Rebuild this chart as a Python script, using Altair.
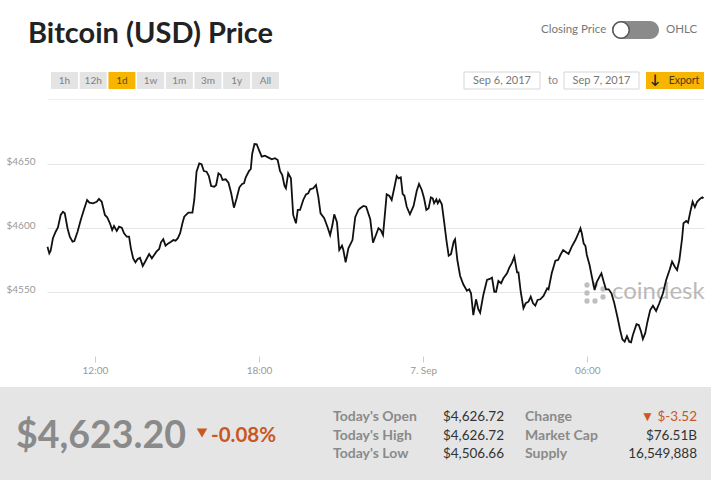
import altair as alt
import pandas as pd

# ---- data ----
minutes = [616,620,623,628,634,639,645,650,654,660,665,671,675,682,689,697,703,708,716,724,729,735,742,747,753,758,762,768,773,779,784,790,795,799,804,809,814,819,825,831,839,845,850,855,861,865,870,875,881,887,892,897,902,907,912,916,925,934,938,943,949,954,959,965,970,975,982,986,991,996,1000,1007,1013,1019,1025,1031,1037,1043,1047,1051,1058,1062,1065,1070,1075,1080,1086,1093,1100,1108,1115,1121,1126,1131,1136,1139,1144,1150,1155,1161,1165,1170,1177,1183,1188,1192,1199,1205,1210,1215,1223,1230,1236,1241,1245,1251,1256,1262,1265,1270,1276,1285,1291,1298,1302,1309,1315,1324,1330,1335,1342,1347,1352,1360,1366,1371,1377,1382,1386,1391,1395,1399,1404,1411,1419,1426,1431,1437,1442,1447,1452,1457,1461,1464,1469,1472,1476,1481,1486,1491,1496,1501,1507,1510,1515,1521,1528,1536,1541,1545,1550,1556,1561,1565,1572,1580,1586,1591,1596,1600,1605,1611,1616,1624,1629,1635,1640,1646,1649,1654,1660,1665,1671,1676,1681,1686,1691,1697,1704,1712,1715,1722,1730,1736,1741,1747,1752,1759,1766,1774,1781,1785,1788,1792,1796,1799,1805,1810,1816,1821,1827,1831,1836,1841,1847,1853,1859,1866,1872,1877,1882,1887,1892,1896,1900,1908,1913,1918,1922,1927,1932,1938,1944,1951,1958,1966,1973,1981,1986,1992,1997,2002,2008,2011,2017,2021,2026,2031,2036,2041,2047,2052,2055]

prices = [4585.4,4580.2,4582.3,4592.0,4597.1,4600.5,4610.2,4612.7,4611.5,4599.8,4593.2,4589.3,4589.8,4597.1,4606.3,4615.4,4621.9,4619.8,4619.3,4620.5,4622.7,4620.5,4610.2,4608.4,4603.7,4598.4,4601.6,4597.7,4601.0,4600.2,4595.9,4593.2,4593.2,4584.1,4576.3,4573.2,4575.8,4576.8,4570.3,4574.2,4579.7,4576.3,4578.9,4581.5,4583.6,4588.8,4591.2,4586.2,4588.0,4589.3,4590.6,4590.1,4592.0,4595.9,4603.7,4608.8,4612.0,4612.0,4621.9,4644.0,4650.5,4649.8,4644.5,4644.0,4640.6,4632.8,4632.3,4633.6,4642.7,4641.4,4637.5,4638.0,4635.4,4627.1,4615.9,4623.2,4631.8,4634.4,4634.9,4639.6,4644.5,4646.1,4657.8,4665.6,4665.4,4660.9,4655.7,4656.5,4655.2,4653.7,4654.5,4653.1,4644.5,4641.4,4632.8,4631.0,4642.7,4638.8,4610.2,4603.7,4614.1,4614.1,4621.9,4626.3,4627.1,4630.2,4631.0,4633.6,4624.5,4611.5,4607.6,4601.0,4594.5,4602.3,4610.7,4604.5,4582.8,4586.2,4582.8,4573.2,4584.1,4590.6,4608.4,4614.1,4615.4,4617.2,4616.6,4606.8,4588.5,4593.2,4599.8,4598.4,4594.5,4626.3,4625.0,4621.9,4631.8,4640.6,4638.8,4639.6,4626.6,4625.2,4616.6,4610.7,4617.2,4629.1,4634.4,4629.7,4623.2,4614.1,4615.4,4624.0,4623.2,4619.3,4622.4,4619.3,4621.9,4618.5,4604.9,4590.6,4578.4,4579.5,4589.3,4591.2,4575.0,4562.7,4556.0,4551.0,4552.1,4549.0,4532.0,4544.3,4536.5,4533.8,4547.7,4559.4,4560.2,4561.2,4550.2,4550.2,4558.6,4556.8,4560.7,4564.6,4569.0,4572.9,4577.6,4565.4,4565.4,4550.2,4537.3,4541.2,4542.4,4546.3,4541.2,4539.3,4543.8,4544.3,4546.9,4552.9,4552.1,4564.6,4574.5,4575.0,4578.9,4582.8,4581.5,4579.7,4585.4,4590.6,4596.3,4599.8,4595.9,4588.0,4585.9,4578.9,4571.1,4562.0,4551.6,4558.0,4562.0,4564.6,4558.0,4552.1,4552.1,4549.0,4541.6,4530.7,4520.3,4513.0,4511.2,4515.6,4511.2,4510.7,4516.4,4524.8,4524.2,4519.0,4513.3,4517.7,4526.8,4535.9,4539.3,4535.2,4541.2,4549.0,4559.4,4567.7,4573.7,4569.8,4567.2,4575.0,4592.0,4603.7,4605.5,4604.1,4612.7,4620.5,4616.2,4620.5,4622.7,4624.0,4623.2]

y_ticks = [4550, 4600, 4650]
range_buttons = ["1h", "12h", "1d", "1w", "1m", "3m", "1y", "All"]
active_button = "1d"
title_text = "Bitcoin (USD) Price"
toggle_left = "Closing Price"
toggle_right = "OHLC"
date_from = "Sep 6, 2017"
date_to = "Sep 7, 2017"
current_price = "$4,623.20"
pct_change = "-0.08%"
stat_labels_left = ["Today's Open", "Today's High", "Today's Low"]
stat_values_left = ["$4,626.72", "$4,626.72", "$4,506.66"]
stat_labels_right = ["Change", "Market Cap", "Supply"]
stat_values_right = ["\u25BC $-3.52", "$76.51B", "16,549,888"]

base_day = pd.Timestamp("2017-09-06")
times = [(base_day + pd.Timedelta(minutes=m)).strftime("%Y-%m-%dT%H:%M:00Z") for m in minutes]
df = pd.DataFrame({"time": times, "price": prices})

# ---- layout helpers (canvas pixels -> plot coordinates) ----
OX, OY = 47, 100
FONT = "Lato"
one = pd.DataFrame({"k": [0]})
ORANGE = "#c8581f"


def txt(text, x, y, size, color, weight="normal", align="left", baseline="middle", opacity=1.0):
    return alt.Chart(one).mark_text(
        text=text, align=align, baseline=baseline, fontSize=size, color=color,
        fontWeight=weight, font=FONT, opacity=opacity
    ).encode(x=alt.value(x - OX), y=alt.value(y - OY))


def box(x1, y1, x2, y2, fill, stroke=None, radius=0):
    kw = dict(fill=fill, cornerRadius=radius)
    if stroke:
        kw.update(stroke=stroke, strokeWidth=1)
    return alt.Chart(one).mark_rect(**kw).encode(
        x=alt.value(x1 - OX), x2=alt.value(x2 - OX),
        y=alt.value(y1 - OY), y2=alt.value(y2 - OY))


def dot(x, y, size, fill, stroke=None, sw=1.0, shape="circle", opacity=1.0):
    kw = dict(shape=shape, filled=True, fill=fill, size=size, opacity=opacity)
    if stroke:
        kw.update(stroke=stroke, strokeWidth=sw)
    else:
        kw.update(strokeWidth=0)
    return alt.Chart(one).mark_point(**kw).encode(x=alt.value(x - OX), y=alt.value(y - OY))


layers = []
# bottom stats panel
layers.append(box(0, 387, 711, 480, "#e5e5e5"))
# faint top border of the plot
layers.append(box(48, 99, 704, 100, "#eeeeee"))

# title
layers.append(txt(title_text, 28, 43, 29, "#222222", weight="bold", baseline="alphabetic"))

# range buttons
for i, b in enumerate(range_buttons):
    x1 = 51 + i * 28.7
    active = (b == active_button)
    layers.append(box(x1, 72, x1 + 27, 89, "#f7b500" if active else "#e4e4e4"))
    layers.append(txt(b, x1 + 13.5, 81, 10, "#5a4a20" if active else "#808080", align="center"))

# closing price / OHLC toggle
layers.append(txt(toggle_left, 541, 30, 11.5, "#777777"))
layers.append(box(612, 21, 659, 39, "#8a8a8a", radius=9))
layers.append(dot(621, 30, 270, "#ffffff", stroke="#555555", sw=1.5))
layers.append(txt(toggle_right, 666, 30, 11.5, "#777777"))

# date range boxes and export
layers.append(box(464, 72, 540, 89, "#ffffff", stroke="#d6d6d6"))
layers.append(txt(date_from, 502, 81, 11, "#777777", align="center"))
layers.append(txt("to", 553, 81, 11, "#888888", align="center"))
layers.append(box(564, 72, 639, 89, "#ffffff", stroke="#d6d6d6"))
layers.append(txt(date_to, 601.5, 81, 11, "#777777", align="center"))
layers.append(box(646, 72, 704, 89, "#f7b500"))
layers.append(txt("\u2193", 655, 80, 13, "#222222", weight="bold", align="center"))
layers.append(txt("Export", 684, 81, 10.5, "#4a3a10", align="center"))

# coindesk watermark
for (px, py) in [(587, 285), (587, 293), (587, 301), (595, 285), (595, 301), (603, 289), (603, 297)]:
    layers.append(dot(px, py, 28, "#b8b8b8", opacity=0.9))
layers.append(txt("coindesk", 612, 292, 24, "#b3b3b3", opacity=0.9))

# bottom stats
layers.append(txt(current_price, 16, 448, 37.5, "#8a8a8a", weight="bold", baseline="alphabetic"))
layers.append(dot(202, 433, 110, ORANGE, shape="triangle-down"))
layers.append(txt(pct_change, 211, 442, 20.5, ORANGE, weight="bold", baseline="alphabetic"))

row_y = [417, 435.5, 454]
for i in range(3):
    layers.append(txt(stat_labels_left[i], 333, row_y[i], 14, "#8a8a8a", weight="bold"))
    layers.append(txt(stat_values_left[i], 504, row_y[i], 13.5, "#333333", align="right"))
    layers.append(txt(stat_labels_right[i], 525, row_y[i], 14, "#8a8a8a", weight="bold"))
    layers.append(txt(stat_values_right[i], 697, row_y[i], 13.5,
                      ORANGE if i == 0 else "#333333", align="right"))

# ---- price line ----
x_enc = alt.X(
    "time:T",
    scale=alt.Scale(
        type="utc",
        domain=[alt.DateTime(year=2017, month=9, date=6, hours=10, minutes=15, utc=True),
                alt.DateTime(year=2017, month=9, date=7, hours=10, minutes=16, utc=True)],
        nice=False),
    axis=alt.Axis(
        values=[alt.DateTime(year=2017, month=9, date=6, hours=12, utc=True),
                alt.DateTime(year=2017, month=9, date=6, hours=18, utc=True),
                alt.DateTime(year=2017, month=9, date=7, hours=0, utc=True),
                alt.DateTime(year=2017, month=9, date=7, hours=6, utc=True)],
        labelExpr="utcFormat(datum.value, '%H:%M') == '00:00' ? utcFormat(datum.value, '%-d. %b') : utcFormat(datum.value, '%H:%M')",
        grid=False, domain=False, tickColor="#cccccc", tickSize=6, labelPadding=3,
        labelColor="#999999", labelFontSize=10, labelFont=FONT, title=None),
)
y_enc = alt.Y(
    "price:Q",
    scale=alt.Scale(domain=[4500, 4700], nice=False, zero=False),
    axis=alt.Axis(
        values=y_ticks, labelExpr="'$' + datum.value", grid=True, gridColor="#e6e6e6",
        domain=False, ticks=False, labelPadding=12, labelColor="#999999",
        labelFontSize=10, labelFont=FONT, labelBaseline="alphabetic", title=None),
)
line = alt.Chart(df).mark_line(color="#111111", strokeWidth=1.8).encode(x=x_enc, y=y_enc)
layers.append(line)

chart = alt.layer(*layers).properties(
    width=657, height=256,
    padding={"left": OX, "top": OY, "right": 7, "bottom": 124},
    autosize=alt.AutoSizeParams(type="none"),
    background="white",
).configure_view(stroke=None)

chart.save("out.html", embed_options={"renderer": "svg", "actions": False})
